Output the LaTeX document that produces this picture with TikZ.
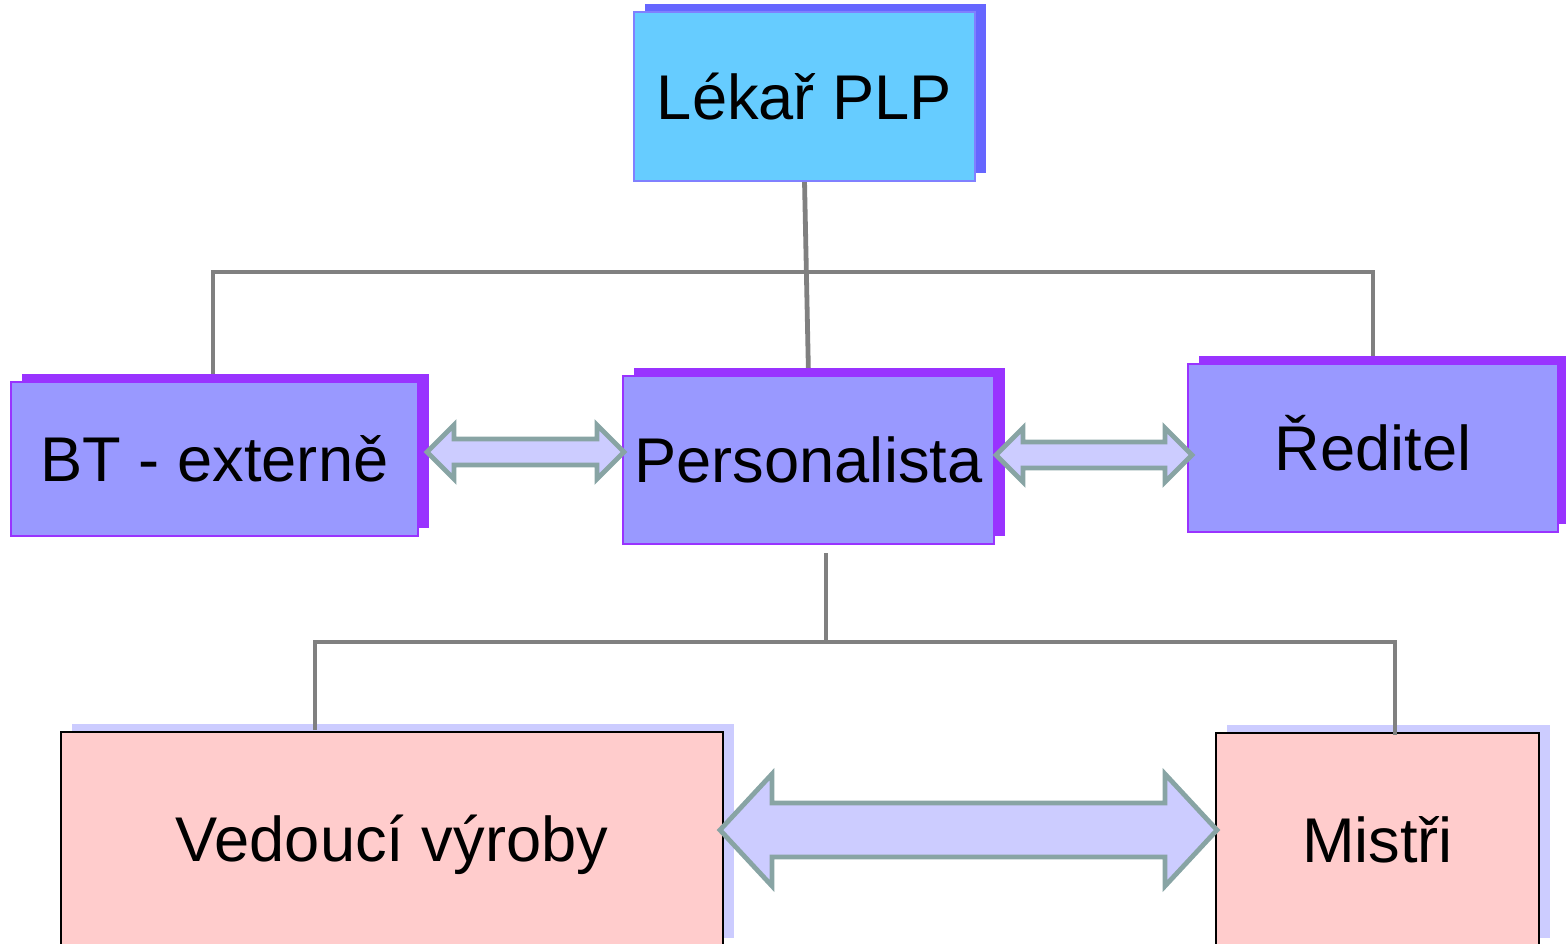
\documentclass[tikz,border=0pt]{standalone}
\usepackage{fontspec}
\setmainfont{Liberation Sans}
\usetikzlibrary{shadows,backgrounds,calc}
\definecolor{lekfill}{RGB}{102,204,255}
\definecolor{lekshad}{RGB}{102,102,255}
\definecolor{lekdraw}{RGB}{128,128,255}
\definecolor{purfill}{RGB}{153,153,255}
\definecolor{purshad}{RGB}{153,51,255}
\definecolor{pinkfill}{RGB}{255,204,204}
\definecolor{lilac}{RGB}{204,204,255}
\definecolor{arrdraw}{RGB}{136,164,164}
\definecolor{conngray}{RGB}{128,128,128}
\tikzset{
  box/.style={rectangle, inner sep=0pt, outer sep=0pt, text height=22.6pt, text depth=0pt,
    font=\fontsize{31.6}{36}\selectfont},
  topbox/.style={box, fill=lekfill, draw=lekdraw, line width=1pt,
    drop shadow={shadow xshift=5.5pt, shadow yshift=4pt, fill=lekshad, opacity=1}},
  midbox/.style={box, fill=purfill, draw=purshad, line width=0.8pt,
    drop shadow={shadow xshift=5.5pt, shadow yshift=4pt, fill=purshad, opacity=1}},
  lowbox/.style={box, fill=pinkfill, draw=black, line width=0.8pt,
    drop shadow={shadow xshift=5.5pt, shadow yshift=4pt, fill=lilac, opacity=1}},
  conn/.style={draw=conngray, line width=2.4pt},
  blockarr/.style={fill=lilac, draw=arrdraw, line width=2.4pt, line join=miter},
}
% #1 left tip, #2 right tip, #3 half shaft, #4 half head, #5 head length
\newcommand{\dblarr}[5]{%
  \draw[blockarr] (#1) -- ([shift={(#5,-#4)}]#1) -- ([shift={(#5,-#3)}]#1)
    -- ([shift={(-#5,-#3)}]#2) -- ([shift={(-#5,-#4)}]#2) -- (#2)
    -- ([shift={(-#5,#4)}]#2) -- ([shift={(-#5,#3)}]#2)
    -- ([shift={(#5,#3)}]#1) -- ([shift={(#5,#4)}]#1) -- cycle;}
\begin{document}
\begin{tikzpicture}[x=0.5pt,y=-0.5pt]
\useasboundingbox (0,0) rectangle (1566,943);
\clip (0,0) rectangle (1566,943);
\node[topbox, minimum width=170.5pt, minimum height=84.5pt] (lek) at (804.5,96.5) {Lékař PLP};
\node[midbox, minimum width=203.5pt, minimum height=77pt] (bt) at (214.5,459) {BT - externě};
\node[midbox, minimum width=185.5pt, minimum height=84pt] (pers) at (808.5,460) {Personalista};
\node[midbox, minimum width=185pt, minimum height=84pt] (red) at (1373,448) {Ředitel};
\node[lowbox, minimum width=331pt, minimum height=107pt] (ved) at (392,839) {Vedoucí výroby};
\node[lowbox, minimum width=161.5pt, minimum height=106.5pt] (mis) at (1377.5,839.5) {Mistři};

\coordinate (hubA) at (806,272);
\coordinate (btA) at (213,380);
\coordinate (redA) at (1373,362);
\coordinate (persB) at (826,553);
\coordinate (hubB) at (826,642);
\coordinate (vedB) at (315,730);
\coordinate (misB) at (1395,735);

\begin{scope}[on background layer]
\draw[conn] (lek.south) -- (pers.north);
\draw[conn] (btA) |- (hubA) -| (redA);
\end{scope}
\draw[conn] (persB) -- (hubB);
\draw[conn] (vedB) |- (hubB) -| (misB);

\coordinate (a1l) at (427,452);
\coordinate (a1r) at (624,452);
\coordinate (a2l) at (996,455);
\coordinate (a2r) at (1192,455);
\coordinate (a3l) at (720,830);
\coordinate (a3r) at (1217,830);
\dblarr{a1l}{a1r}{13}{27}{27}
\dblarr{a2l}{a2r}{13}{27}{27}
\dblarr{a3l}{a3r}{27}{56}{52}
\end{tikzpicture}
\end{document}
